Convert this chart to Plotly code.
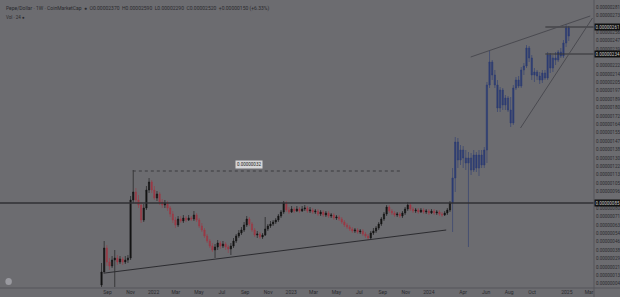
import pandas as pd
import plotly.graph_objects as go

# ---------------- data (price in units of 1e-8) ----------------
PRICE_UNIT = 1e-8
week_start = "2021-08-16"
n_weeks = 178
dates = pd.date_range(start=week_start, periods=n_weeks, freq="7D")

first_open = 3
close_units = [16,40,26,22,28,30,26,29,26,28, 30,88,96,88,83,68,80,98,106,98,
               90,94,86,83,85,80,74,68,63,69, 67,70,68,70,69,73,68,62,58,52,
               47,42,38,41,45,42,44,41,39,42, 47,52,55,58,63,69,64,58,53,54,
               51,53,59,62,64,66,68,72,76,85, 78,76,79,77,79,77,79,80,77,78,
               76,77,74,76,73,75,72,73,70,71, 69,66,63,61,59,57,58,56,57,54,
               52,50,55,57,60,64,69,74,81,77, 75,73,74,72,75,79,83,79,77,78,
               76,78,76,77,75,77,75,76,74,73, 75,78,85,110,146,128,138,130,125,130,
               118,133,120,133,123,138,203,226,213,203, 180,198,183,190,178,165,200,208,202,218,
               222,240,230,213,216,212,208,215,210,233, 220,230,228,236,232,245,260,252]
high_units = [25,47,43,30,32,38,33,32,31,32, 33,92,118,100,93,86,84,102,110,108,
              102,97,96,89,88,87,82,77,71,72, 72,73,72,73,72,77,75,70,65,60,
              54,49,45,44,48,47,47,46,43,45, 50,54,58,61,66,72,71,66,60,57,
              56,55,71,64,67,68,70,74,78,87, 87,81,82,81,82,81,82,83,82,81,
              80,79,79,78,78,77,77,75,75,73, 73,71,68,65,63,61,60,60,59,59,
              56,54,57,60,62,66,71,76,83,83, 79,77,76,76,77,81,86,85,81,80,
              80,80,80,79,79,79,79,78,78,76, 77,80,87,120,151,150,143,142,138,136,
              135,138,136,138,138,141,206,238,228,218, 208,201,200,193,192,191,203,211,212,221,
              225,243,242,233,220,218,216,218,218,236, 235,233,236,238,240,248,264,262]
low_units = [1,14,22,18,20,1,23,24,23,24, 25,28,85,84,80,65,66,78,95,95,
             88,87,83,80,80,77,71,65,60,61, 65,65,66,67,67,67,66,60,56,50,
             45,40,36,30,38,39,40,38,35,33, 40,45,50,53,56,61,62,56,51,50,
             49,49,52,57,60,62,64,66,70,74, 76,74,75,75,76,75,76,77,75,75,
             74,74,72,72,71,71,70,70,68,68, 67,64,61,59,57,55,55,54,54,52,
             50,48,48,53,55,58,62,67,72,75, 73,71,71,70,70,73,77,77,75,75,
             74,75,74,74,73,74,73,73,72,71, 72,73,76,56,96,120,123,120,118,41,
             113,116,116,112,120,120,125,200,208,200, 176,176,178,178,176,161,163,198,200,200,
             213,220,226,208,206,208,204,205,208,208, 215,216,223,226,230,230,241,247]
open_units = [first_open] + close_units[:-1]   # each week opens at the previous close
rally_start = 133   # first week drawn in the blue style

# drawn levels / lines (price units)
breakout_level = 85
top_level_1 = 261
top_level_2 = 234
range_level = 117
range_label_text = "0.00000032"
support_line = (("2021-08-25", 15), ("2024-02-16", 58))
wedge_upper = (("2024-04-21", 231), ("2025-03-04", 272))
wedge_lower = (("2024-08-31", 160), ("2025-03-10", 270))
range_line = (("2021-11-07", 117), ("2023-10-21", 117))
short_lines_start = "2024-11-05"

x_tick_dates = ["2021-09-01","2021-11-01","2022-01-01","2022-03-01","2022-05-01","2022-07-01",
                "2022-09-01","2022-11-01","2023-01-01","2023-03-01","2023-05-01","2023-07-01",
                "2023-09-01","2023-11-01","2024-01-01","2024-04-01","2024-06-01","2024-08-01",
                "2024-10-01","2025-01-01","2025-03-01"]
x_tick_text = ["Sep","Nov","2022","Mar","May","Jul","Sep","Nov","2023","Mar","May","Jul",
               "Sep","Nov","2024","Apr","Jun","Aug","Oct","2025","Mar"]
y_tick_top = 281
y_tick_step = 8.39
y_tick_count = 34
highlight_levels = [top_level_1, top_level_2, breakout_level]
y_tick_vals = [y_tick_top - y_tick_step * k for k in range(y_tick_count)]
# the highlighted price boxes cover the axis label nearest to them
y_tick_vals = [v for v in y_tick_vals if min(abs(v - h) for h in highlight_levels) > 4.5]
y_tick_text = [f"{v * PRICE_UNIT:.8f}" for v in y_tick_vals]

legend_text = ("Pepe/Dollar · 1W · CoinMarketCap  ●  O0.00002370  H0.00002590  "
               "L0.00002290  C0.00002520  +0.00000150 (+6.33%)")

# ---------------- figure ----------------
BG = "#6c6c70"
TXT = "#2a2a2e"
FONT = "Roboto"
fig = go.Figure()

fig.add_trace(go.Candlestick(
    x=dates[:rally_start], open=open_units[:rally_start], high=high_units[:rally_start],
    low=low_units[:rally_start], close=close_units[:rally_start],
    increasing=dict(line=dict(color="#141414", width=0.6), fillcolor="#141414"),
    decreasing=dict(line=dict(color="#9a3a46", width=0.6), fillcolor="#9a3a46"),
    showlegend=False, hoverinfo="skip"))
fig.add_trace(go.Candlestick(
    x=dates[rally_start:], open=open_units[rally_start:], high=high_units[rally_start:],
    low=low_units[rally_start:], close=close_units[rally_start:],
    increasing=dict(line=dict(color="#2d3c72", width=0.6), fillcolor="#2d3c72"),
    decreasing=dict(line=dict(color="#2d3c72", width=0.6), fillcolor="#2d3c72"),
    showlegend=False, hoverinfo="skip"))

shapes = []
shapes.append(dict(type="line", xref="paper", x0=0, x1=1, y0=breakout_level, y1=breakout_level,
                   line=dict(color="#303034", width=1.5)))
for lvl in (top_level_1, top_level_2):
    shapes.append(dict(type="line", xref="x", x0=short_lines_start, x1=dates[-1] + pd.Timedelta(days=80),
                       y0=lvl, y1=lvl, line=dict(color="#303034", width=1)))
for (a, b), col in ((support_line, "#2c2c30"), (wedge_upper, "#4a4a50"), (wedge_lower, "#4a4a50")):
    shapes.append(dict(type="line", x0=a[0], y0=a[1], x1=b[0], y1=b[1],
                       line=dict(color=col, width=1)))
shapes.append(dict(type="line", x0=range_line[0][0], y0=range_line[0][1], x1=range_line[1][0],
                   y1=range_line[1][1], line=dict(color="#3a3a3e", width=1, dash="dot")))
shapes.append(dict(type="line", xref="paper", yref="paper", x0=1, x1=1, y0=-0.04, y1=1,
                   line=dict(color="#55555a", width=1)))
shapes.append(dict(type="line", xref="paper", yref="paper", x0=0, x1=1.045, y0=0, y1=0,
                   line=dict(color="#55555a", width=1)))
shapes.append(dict(type="circle", xref="paper", yref="paper", x0=0.009, x1=0.02, y0=0.01, y1=0.035,
                   fillcolor="#9a9aa0", line=dict(width=0)))

annotations = []
for lvl in highlight_levels:
    annotations.append(dict(xref="paper", x=1, xanchor="left", xshift=0, y=lvl, yref="y",
                            text=f"{lvl * PRICE_UNIT:.8f}", showarrow=False,
                            font=dict(size=4.5, color="#c8c8c8", family=FONT),
                            bgcolor="#111111", borderpad=0.5))
annotations.append(dict(x="2022-09-12", y=range_level + 7, text=range_label_text, showarrow=False,
                        font=dict(size=4.5, color="#222222", family=FONT),
                        bgcolor="#d6d6d8", borderpad=1))
annotations.append(dict(xref="paper", yref="paper", x=0, y=1, xanchor="left", yanchor="top",
                        xshift=4, yshift=-3, text=legend_text, showarrow=False,
                        font=dict(size=5, color=TXT, family=FONT)))
annotations.append(dict(xref="paper", yref="paper", x=0, y=1, xanchor="left", yanchor="top",
                        xshift=4, yshift=-13, text="Vol · 24 ●", showarrow=False,
                        font=dict(size=4.5, color=TXT, family=FONT)))

fig.update_layout(
    width=620, height=297,
    margin=dict(l=0, r=24, t=0, b=9),
    paper_bgcolor=BG, plot_bgcolor=BG,
    shapes=shapes, annotations=annotations,
    xaxis=dict(type="date", range=["2020-11-19 17:00", "2025-03-14"],
               rangeslider=dict(visible=False), showgrid=False, zeroline=False,
               tickvals=x_tick_dates, ticktext=x_tick_text, ticks="",
               tickfont=dict(size=5, color=TXT, family=FONT), ticklabelstandoff=0),
    yaxis=dict(range=[0, 288], side="right", showgrid=False, zeroline=False,
               tickvals=y_tick_vals, ticktext=y_tick_text, ticks="", ticklabelstandoff=1,
               tickfont=dict(size=4.5, color=TXT, family=FONT)),
)
fig.write_html("out.html")
